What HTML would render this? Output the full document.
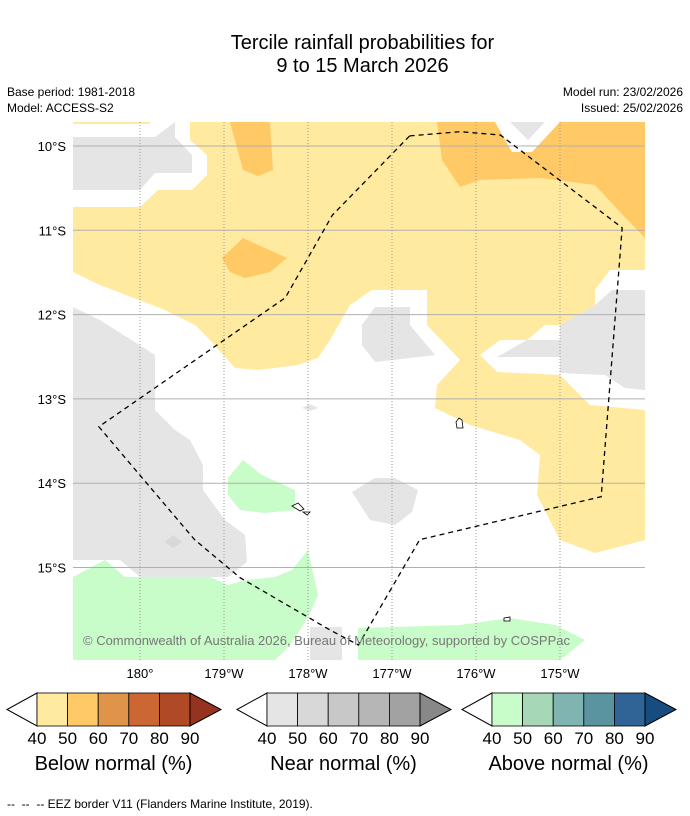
<!DOCTYPE html>
<html><head><meta charset="utf-8"><style>
body{margin:0;background:#fff;font-family:"Liberation Sans",sans-serif;}
#c{position:relative;width:690px;height:816px;overflow:hidden;}
.t{position:absolute;white-space:nowrap;}
</style></head><body>
<div id="c">
<div class="t" style="left:0;width:725px;text-align:center;top:32px;font-size:20px;line-height:23px;color:#000">Tercile rainfall probabilities for<br>9 to 15 March 2026</div>
<div class="t" style="left:7px;top:85px;font-size:12px">Base period: 1981-2018</div>
<div class="t" style="left:7px;top:101px;font-size:12px">Model: ACCESS-S2</div>
<div class="t" style="right:7px;top:85px;font-size:12px">Model run: 23/02/2026</div>
<div class="t" style="right:7px;top:101px;font-size:12px">Issued: 25/02/2026</div>
<svg id="map" width="690" height="816" style="position:absolute;left:0;top:0"></svg>
<div class="t" style="left:7px;top:797px;font-size:12px">-- &nbsp;-- &nbsp;-- EEZ border V11 (Flanders Marine Institute, 2019).</div>
</div>
<script>
const latTicks=[10,11,12,13,14,15];
const latLabels=["10°S","11°S","12°S","13°S","14°S","15°S"];
const lonTicks=[180,181,182,183,184,185];
const lonLabels=["180°","179°W","178°W","177°W","176°W","175°W"];
const eezLon=[183.21,183.81,184.29,185.74,185.49,183.33,182.60,182.26,181.19,180.65,179.51,181.73,182.29,183.21];
const eezLat=[9.88,9.83,9.87,10.97,14.16,14.67,15.92,15.74,15.12,14.67,13.33,11.80,10.82,9.88];
const X=lon=>140+(lon-180)*84;
const Y=lat=>146+(lat-10)*84.3;
const NS="http://www.w3.org/2000/svg";
const svg=document.getElementById('map');
function mk(tag,attrs,parent){const e=document.createElementNS(NS,tag);for(const k in attrs)e.setAttribute(k,attrs[k]);(parent||svg).appendChild(e);return e;}
const defs=mk('defs',{});const cp=mk('clipPath',{id:'clip'},defs);mk('rect',{x:73,y:122,width:572,height:538},cp);
const g=mk('g',{'clip-path':'url(#clip)'});

const shapes=[
["yellow-region","#ffeaa0","73,122 150,122 150,124 73,124"],
["yellow-region","#ffeaa0","73,207 140,207 158,190 192,190 207,175 207,155 190,140 190,122 645,122 645,270 610,270 595,290 595,305 560,325 545,325 527,340 500,340 480,355 497,372 560,375 590,405 645,410 645,540 595,553 560,540 537,495 540,455 520,440 470,425 435,408 437,385 460,360 427,325 427,290 372,290 350,305 330,340 318,358 298,365 258,370 235,368 210,340 195,325 165,310 100,285 73,272"],
["orange-region","#ffca66","437,122 645,122 645,238 620,212 595,185 540,178 480,180 460,187 442,160"],
["white-gap","#fff","495,122 560,122 532,152 512,152"],
["gray-region","#e5e5e5","510,122 545,122 528,140"],
["orange-region","#ffca66","230,122 270,122 273,170 258,176 243,170"],
["orange-region","#ffca66","222,258 243,238 287,258 270,272 245,278 230,272"],
["gray-region","#e5e5e5","73,137 155,137 175,122 175,137 192,155 192,173 155,173 140,190 73,190"],
["gray-region","#e5e5e5","497,357 527,340 560,340 560,325 595,305 612,290 645,290 645,390 625,388 605,375 560,373 560,357"],
["gray-region","#e5e5e5","362,325 375,307 410,307 410,325 435,355 410,358 375,362 362,345"],
["gray-region","#e5e5e5","73,307 100,320 155,355 155,410 175,430 190,440 203,465 203,490 225,520 245,535 247,562 228,577 140,577 120,560 93,560 73,560"],
["gray-region","#d8d8d8","165,542 173,535 182,542 173,548"],
["gray-region","#e5e5e5","352,492 375,478 395,478 418,490 412,512 395,525 370,520"],
["gray-region","#e5e5e5","302,408 310,404 318,408 310,411"],
["green-region","#c8fcc8","228,478 243,460 262,475 295,490 295,510 265,513 240,510 228,495"],
["green-region","#c8fcc8","73,577 105,560 125,577 210,577 228,585 247,580 275,577 292,570 308,550 318,595 310,613 300,630 290,645 275,660 73,660"],
["gray-region","#e5e5e5","310,627 342,627 342,660 310,660"],
["green-region","#c8fcc8","358,628 460,625 510,618 555,625 585,640 560,660 358,660"]
];
shapes.forEach(s=>{const p=mk('polygon',{points:s[2],fill:s[1]},g);});
latTicks.forEach((v,i)=>{
 const l=mk('line',{x1:73,x2:645,y1:Y(v),y2:Y(v),stroke:'#b0b0b0','stroke-width':1},g);
 
 const t=mk('text',{x:66,y:Y(v)+5,'text-anchor':'end','font-size':13,'font-family':'Liberation Sans, sans-serif'});
 t.textContent=latLabels[i];
});
lonTicks.forEach((v,i)=>{
 const l=mk('line',{x1:X(v),x2:X(v),y1:122,y2:660,stroke:'#999','stroke-width':1,'stroke-dasharray':'1,2'},g);
 
 const t=mk('text',{x:X(v),y:678,'text-anchor':'middle','font-size':13,'font-family':'Liberation Sans, sans-serif'});
 t.textContent=lonLabels[i];
});
[["459,418 462,420 463,428 457,428 456,422"],["292,506 298,503 304,509 300,511"],["303,512 310,512 307,515"],["504,618 510,617 510,621 504,621"]].forEach(s=>{const p=mk('polygon',{points:s[0],fill:'#fff',stroke:'#000','stroke-width':0.8},g);});
const eez=mk('polyline',{points:eezLon.map((v,i)=>X(v)+','+Y(eezLat[i])).join(' '),fill:'none',stroke:'#000','stroke-width':1.3,'stroke-dasharray':'5,4'},g);

const cr=mk('text',{x:83,y:645,'font-size':13,fill:'#777','font-family':'Liberation Sans, sans-serif'},g);
cr.textContent='© Commonwealth of Australia 2026, Bureau of Meteorology, supported by COSPPac';

const cbLevels=["40","50","60","70","80","90"];
const cbBelow=["#ffeaa0","#ffca66","#e0944a","#cc6633","#b04a26","#963220"];
const cbNear=["#e5e5e5","#d8d8d8","#c8c8c8","#b6b6b6","#a2a2a2","#888888"];
const cbAbove=["#c8fcc8","#a6d8b8","#80b4b0","#5a94a0","#306496","#174c80"];
const cbTitles=["Below normal (%)","Near normal (%)","Above normal (%)"];
const cbX=[37,267,492];
[cbBelow,cbNear,cbAbove].forEach((cols,k)=>{
 const x0=cbX[k],w=30.6,y0=693,y1=726,ym=709.5;
 const cg=mk('g',{});
 mk('polygon',{points:`${x0},${y0} ${x0-30},${ym} ${x0},${y1}`,fill:'#fff',stroke:'#000','stroke-width':1},cg);
 for(let i=0;i<5;i++){mk('rect',{x:x0+i*w,y:y0,width:w,height:y1-y0,fill:cols[i],stroke:'#000','stroke-width':0.8},cg);}
 const xe=x0+5*w;
 mk('polygon',{points:`${xe},${y0} ${xe+31},${ym} ${xe},${y1}`,fill:cols[5],stroke:'#000','stroke-width':1},cg);
 cbLevels.forEach((lv,i)=>{const t=mk('text',{x:x0+i*w,y:744,'text-anchor':'middle','font-size':17,'font-family':'Liberation Sans, sans-serif'},cg);t.textContent=lv;});
 const tt=mk('text',{x:x0+2.5*w,y:770,'text-anchor':'middle','font-size':20,'font-family':'Liberation Sans, sans-serif'},cg);
 tt.textContent=cbTitles[k];
});
</script>
</body></html>
